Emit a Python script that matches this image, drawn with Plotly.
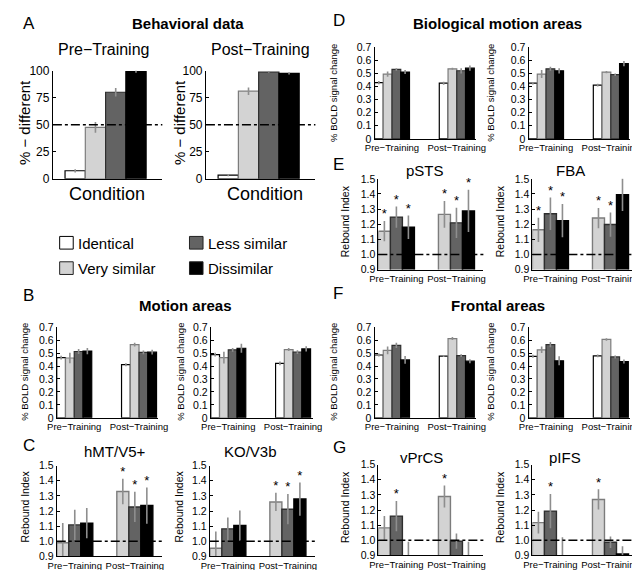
import plotly.graph_objects as go

FONT = "Liberation Sans, Arial, Helvetica, sans-serif"
W, H = 640, 570

# ---------------- data ----------------
conditions = ["Identical", "Very similar", "Less similar", "Dissimilar"]
cond_colors = ["#ffffff", "#d3d3d3", "#636363", "#000000"]
cond_edges = ["#000000", "#7c7c7c", "#2e2e2e", "#000000"]
sessions = ["Pre\u2212Training", "Post\u2212Training"]

# A: behavioural data (% different)
behav_pre = [7.5, 47.5, 80, 99]
behav_pre_err = [1.5, 5, 4, 1]
behav_post = [3.5, 81, 98.5, 97.5]
behav_post_err = [1, 3.5, 0.6, 1]
behav_ticks = [0, 25, 50, 75, 100]

bold_ticks = [0, 0.1, 0.2, 0.3, 0.4, 0.5, 0.6, 0.7]
bold_tick_labels = ["0", "0.1", "0.2", "0.3", "0.4", "0.5", "0.6", "0.7"]
rebound_ticks = [0.9, 1.0, 1.1, 1.2, 1.3, 1.4, 1.5]
rebound_tick_labels = ["0.9", "1.0", "1.1", "1.2", "1.3", "1.4", "1.5"]

# BOLD % signal change: [pre (4 conditions), post (4 conditions)]
motion1_bold = [[0.465, 0.462, 0.512, 0.515], [0.41, 0.565, 0.505, 0.507]]
motion1_err = [[0.015, 0.04, 0.02, 0.025], [0.012, 0.015, 0.015, 0.018]]
motion2_bold = [[0.488, 0.465, 0.525, 0.537], [0.42, 0.527, 0.507, 0.532]]
motion2_err = [[0.015, 0.045, 0.015, 0.035], [0.015, 0.012, 0.015, 0.02]]
bio1_bold = [[0.43, 0.495, 0.53, 0.51], [0.425, 0.535, 0.52, 0.54]]
bio1_err = [[0.012, 0.02, 0.01, 0.015], [0.012, 0.008, 0.02, 0.02]]
bio2_bold = [[0.425, 0.495, 0.535, 0.52], [0.41, 0.51, 0.49, 0.575]]
bio2_err = [[0.01, 0.03, 0.015, 0.02], [0.01, 0.008, 0.01, 0.02]]
frontal1_bold = [[0.485, 0.52, 0.56, 0.447], [0.477, 0.612, 0.48, 0.437]]
frontal1_err = [[0.012, 0.03, 0.02, 0.03], [0.008, 0.012, 0.01, 0.015]]
frontal2_bold = [[0.475, 0.525, 0.565, 0.44], [0.478, 0.605, 0.47, 0.435]]
frontal2_err = [[0.012, 0.025, 0.02, 0.035], [0.01, 0.01, 0.012, 0.015]]

# Rebound index: [pre (very, less, dissimilar), post (...)]
hmt_rebound = [[0.99, 1.108, 1.12], [1.329, 1.227, 1.236]]
hmt_err = [[0.13, 0.10, 0.10], [0.085, 0.10, 0.12]]
hmt_sig = [[0, 0, 0], [1, 1, 1]]
ko_rebound = [[0.954, 1.082, 1.104], [1.26, 1.212, 1.279]]
ko_err = [[0.11, 0.075, 0.10], [0.06, 0.10, 0.11]]
ko_sig = [[0, 0, 0], [1, 1, 1]]
psts_rebound = [[1.154, 1.247, 1.18], [1.265, 1.209, 1.288]]
psts_err = [[0.067, 0.07, 0.078], [0.088, 0.10, 0.14]]
psts_sig = [[1, 1, 1], [1, 1, 1]]
fba_rebound = [[1.163, 1.269, 1.224], [1.241, 1.198, 1.396]]
fba_err = [[0.08, 0.108, 0.11], [0.067, 0.08, 0.108]]
fba_sig = [[1, 1, 1], [1, 1, 1]]
vprcs_rebound = [[1.082, 1.16, 0.89], [1.29, 0.994, 0.89]]
vprcs_err = [[0.078, 0.10, 0.10], [0.073, 0.05, 0.10]]
vprcs_sig = [[0, 1, 0], [1, 0, 0]]
pifs_rebound = [[1.117, 1.193, 0.89], [1.27, 0.987, 0.91]]
pifs_err = [[0.072, 0.113, 0.13], [0.067, 0.038, 0.05]]
pifs_sig = [[0, 1, 0], [1, 0, 0]]

# ---------------- layout helpers ----------------
def px_x(x):
    return x / W


def px_y(y):
    return 1 - y / H


fig = go.Figure()
layout = dict(
    width=W, height=H, margin=dict(l=0, r=0, t=0, b=0),
    paper_bgcolor="white", plot_bgcolor="white", showlegend=False,
    font=dict(family=FONT, color="black"), barmode="overlay",
)
shapes = []
annotations = []

BW_BOLD = 0.135
BW_REB = 0.2
ERR_COLOR = "#8e8e8e"


def axis_names(i):
    return ("xaxis" if i == 1 else f"xaxis{i}",
            "yaxis" if i == 1 else f"yaxis{i}",
            "x" if i == 1 else f"x{i}",
            "y" if i == 1 else f"y{i}")


def set_axes(i, box, xrange, yrange, yticks, yticklabels, ytickfont, xticks=True):
    xl, xr, yt, yb = box
    xa, ya, xref, yref = axis_names(i)
    layout[xa] = dict(
        domain=[px_x(xl), px_x(xr)], range=xrange, anchor=yref,
        showline=True, linecolor="black", linewidth=1, showgrid=False,
        zeroline=False, ticks="", fixedrange=True, tickangle=0,
        tickvals=[1, 2] if xticks else [], ticktext=sessions if xticks else [],
        showticklabels=xticks, tickfont=dict(size=9.5, family=FONT),
    )
    layout[ya] = dict(
        domain=[px_y(yb), px_y(yt)], range=yrange, anchor=xref,
        showline=True, linecolor="black", linewidth=1, showgrid=False,
        zeroline=False, ticks="inside", ticklen=3, tickcolor="black",
        tickvals=yticks, ticktext=yticklabels,
        tickfont=dict(size=ytickfont, family=FONT), fixedrange=True,
    )
    return xref, yref


def ref_line(i, yval):
    _, _, xref, yref = axis_names(i)
    shapes.append(dict(type="line", xref=f"{xref} domain", yref=yref,
                       x0=0, x1=1, y0=yval, y1=yval,
                       line=dict(color="black", width=1.5, dash="dashdot")))


def add_behav(i, box, vals, errs):
    xref, yref = set_axes(i, box, [-0.1, 5.3], [0, 100], behav_ticks,
                          [str(t) for t in behav_ticks], 12, xticks=False)
    fig.add_trace(go.Bar(
        x=[1, 2, 3, 4], y=vals, width=1, xaxis=xref, yaxis=yref,
        marker=dict(color=cond_colors, line=dict(color=cond_edges, width=1.2)),
        error_y=dict(type="data", array=errs, color=ERR_COLOR, thickness=1.6, width=0),
        hoverinfo="skip"))
    ref_line(i, 50)


def add_bold(i, box, vals, errs):
    xref, yref = set_axes(i, box, [0.73, 2.30], [0, 0.7], bold_ticks,
                          bold_tick_labels, 10.5)
    xs, ys, es, cs, ec = [], [], [], [], []
    for s in range(2):
        for c in range(4):
            xs.append(s + 1 + (c - 1.5) * BW_BOLD)
            ys.append(vals[s][c])
            es.append(errs[s][c])
            cs.append(cond_colors[c])
            ec.append(cond_edges[c])
    fig.add_trace(go.Bar(
        x=xs, y=ys, width=BW_BOLD, xaxis=xref, yaxis=yref,
        marker=dict(color=cs, line=dict(color=ec, width=1.2)),
        error_y=dict(type="data", array=es, color=ERR_COLOR, thickness=1.6, width=0),
        hoverinfo="skip"))


def add_rebound(i, box, vals, errs, sig):
    xref, yref = set_axes(i, box, [0.7, 2.45], [0.9, 1.5], rebound_ticks,
                          rebound_tick_labels, 10.5)
    xs, ys, es, cs, ec = [], [], [], [], []
    sx, sy = [], []
    for s in range(2):
        for c in range(3):
            x = s + 1 + (c - 1) * BW_REB
            xs.append(x)
            ys.append(vals[s][c])
            es.append(errs[s][c])
            cs.append(cond_colors[c + 1])
            ec.append(cond_edges[c + 1])
            if sig[s][c]:
                sx.append(x)
                sy.append(vals[s][c] + errs[s][c] + 0.04)
    fig.add_trace(go.Bar(
        x=xs, y=ys, width=BW_REB, xaxis=xref, yaxis=yref,
        marker=dict(color=cs, line=dict(color=ec, width=1.4)),
        error_y=dict(type="data", array=es, color=ERR_COLOR, thickness=1.6, width=0),
        hoverinfo="skip"))
    ref_line(i, 1.0)
    if sx:
        fig.add_trace(go.Scatter(
            x=sx, y=sy, mode="text", text=["*"] * len(sx), xaxis=xref, yaxis=yref,
            textfont=dict(size=13, family=FONT, color="black"),
            cliponaxis=False, hoverinfo="skip"))


def text(x, y, s, size, bold=False, angle=0, xanchor="center"):
    annotations.append(dict(
        x=px_x(x), y=px_y(y), xref="paper", yref="paper", text=s,
        showarrow=False, xanchor=xanchor, yanchor="middle", textangle=angle,
        font=dict(size=size, family=FONT, color="black",
                  weight="bold" if bold else "normal")))


# ---------------- panels ----------------
add_behav(1, (36, 149, 57, 168), behav_pre, behav_pre_err)
add_behav(2, (194, 307, 57, 168), behav_post, behav_post_err)
add_bold(3, (40, 145, 320, 413), motion1_bold, motion1_err)
add_bold(4, (199, 304, 320, 413), motion2_bold, motion2_err)
add_rebound(5, (40, 148.5, 462, 555), hmt_rebound, hmt_err, hmt_sig)
add_rebound(6, (198, 306.5, 462, 555), ko_rebound, ko_err, ko_sig)
add_bold(7, (368, 473, 33, 127), bio1_bold, bio1_err)
add_bold(8, (527, 632, 33, 127), bio2_bold, bio2_err)
add_rebound(9, (372, 480.5, 168, 261), psts_rebound, psts_err, psts_sig)
add_rebound(10, (531, 639.5, 168, 261), fba_rebound, fba_err, fba_sig)
add_bold(11, (368, 473, 320, 413), frontal1_bold, frontal1_err)
add_bold(12, (527, 632, 320, 413), frontal2_bold, frontal2_err)
add_rebound(13, (372, 480.5, 461, 554), vprcs_rebound, vprcs_err, vprcs_sig)
add_rebound(14, (531, 639.5, 461, 554), pifs_rebound, pifs_err, pifs_sig)

# ---------------- text ----------------
for letter, x, y in [("A", 3, 9), ("B", 3, 288), ("C", 3, 441),
                     ("D", 323, 6), ("E", 323, 153), ("F", 323, 286), ("G", 323, 443)]:
    text(x, y, letter, 17, xanchor="left")

text(175, 9, "Behavioral data", 15, bold=True)
text(173, 298, "Motion areas", 15, bold=True)
text(495, 9, "Biological motion areas", 15, bold=True)
text(495, 298, "Frontal areas", 15, bold=True)

text(88, 35, sessions[0], 16)
text(250, 35, sessions[1], 16)
text(6, 110, "% \u2212 different", 15, angle=-90)
text(167, 110, "% \u2212 different", 15, angle=-90)
text(92, 184, "Condition", 18)
text(255, 184, "Condition", 18)

for x, y in [(6, 366), (167, 366), (325, 80), (487, 80), (325, 366), (487, 366)]:
    text(x, y, "% BOLD signal change", 9.5, angle=-90)
for x, y in [(7, 504), (166, 504), (337, 211), (497, 211), (337, 504), (497, 504)]:
    text(x, y, "Rebound Index", 10.5, angle=-90)

for s, x, y in [("hMT/V5+", 100, 448), ("KO/V3b", 240, 448), ("pSTS", 420, 159),
                ("FBA", 570, 159), ("vPrCS", 417, 454), ("pIFS", 565, 454)]:
    text(x, y, s, 15)

# legend
legend_pos = [(43, 227), (43, 253), (177, 227), (177, 253)]
for (bx, by), name, col, edge in zip(legend_pos, conditions, cond_colors, cond_edges):
    shapes.append(dict(type="rect", xref="paper", yref="paper",
                       x0=px_x(bx), x1=px_x(bx + 14), y0=px_y(by + 13), y1=px_y(by),
                       fillcolor=col, line=dict(color="#222" if col != "#ffffff" else "#000", width=1)))
    text(bx + 17, by + 7, name, 15, xanchor="left")

layout["shapes"] = shapes
layout["annotations"] = annotations
fig.update_layout(**layout)
fig.write_html("out.html")
